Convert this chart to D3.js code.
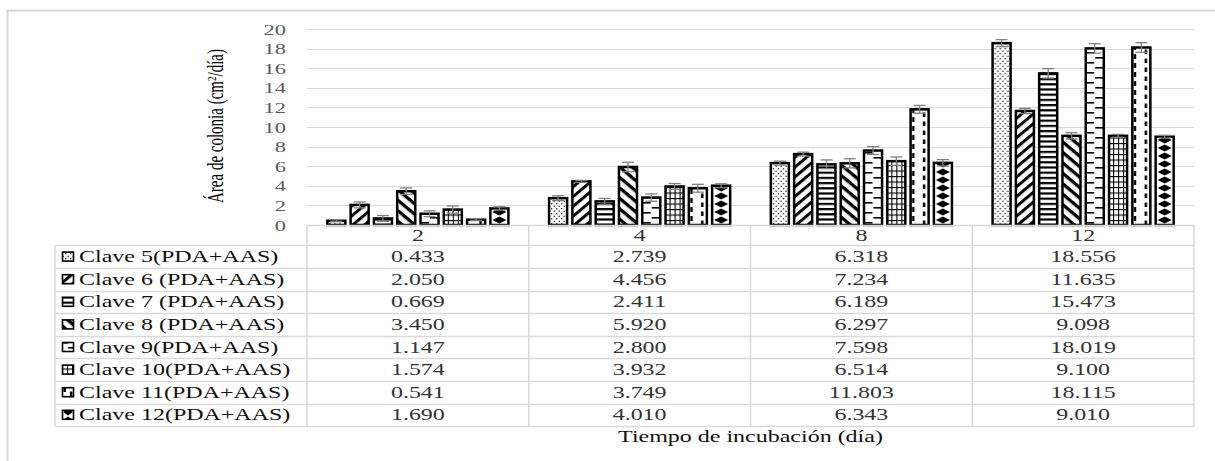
<!DOCTYPE html>
<html><head><meta charset="utf-8">
<script src="https://cdn.jsdelivr.net/npm/d3@7"></script>
<style>html,body{margin:0;padding:0;background:#fff;overflow:hidden} text{font-family:'Liberation Serif','Times New Roman',serif}</style>
</head><body>
<svg id="chart" width="1215" height="461"></svg>
<script>
// ---------- data ----------
const categories = ["2", "4", "8", "12"];
const seriesNames = ["Clave 5(PDA+AAS)", "Clave 6 (PDA+AAS)", "Clave 7 (PDA+AAS)", "Clave 8 (PDA+AAS)",
                     "Clave 9(PDA+AAS)", "Clave 10(PDA+AAS)", "Clave 11(PDA+AAS)", "Clave 12(PDA+AAS)"];
const clave5  = [0.433, 2.739, 6.318, 18.556];
const clave6  = [2.050, 4.456, 7.234, 11.635];
const clave7  = [0.669, 2.411, 6.189, 15.473];
const clave8  = [3.450, 5.920, 6.297, 9.098];
const clave9  = [1.147, 2.800, 7.598, 18.019];
const clave10 = [1.574, 3.932, 6.514, 9.100];
const clave11 = [0.541, 3.749, 11.803, 18.115];
const clave12 = [1.690, 4.010, 6.343, 9.010];
// error bar half-lengths
const err5  = [0.10, 0.25, 0.20, 0.36];
const err6  = [0.30, 0.10, 0.20, 0.27];
const err7  = [0.30, 0.30, 0.45, 0.48];
const err8  = [0.33, 0.48, 0.47, 0.32];
const err9  = [0.30, 0.37, 0.40, 0.48];
const err10 = [0.37, 0.30, 0.43, 0.15];
const err11 = [0.10, 0.40, 0.40, 0.49];
const err12 = [0.17, 0.20, 0.33, 0.14];
const yTicks = [0, 2, 4, 6, 8, 10, 12, 14, 16, 18, 20];
const patternTypes = ["dots", "upDiag", "hstripe", "downDiag", "hdash", "grid", "vdash", "diamond"];

const values = [clave5, clave6, clave7, clave8, clave9, clave10, clave11, clave12];
const errors = [err5, err6, err7, err8, err9, err10, err11, err12];

// ---------- layout ----------
const svg = d3.select("#chart");
const defs = svg.append("defs");
const plotL = 307, plotR = 1194, y0 = 225, yTop = 29;
const tableL = 55, headerH = 20.3, rowH = 22.6;
const serif = "'Liberation Serif','Times New Roman',serif";
const SX = 1.5; // horizontal text stretch seen in the picture

const x0 = d3.scaleBand().domain(categories).range([plotL, plotR]).padding(0);
const x1 = d3.scaleBand().domain(d3.range(seriesNames.length)).range([0, x0.bandwidth()])
  .paddingInner(0.14).paddingOuter(0.83);
const y = d3.scaleLinear().domain([0, 20]).range([y0, yTop]);

// outer frame
svg.append("rect").attr("x", 7.5).attr("y", 10.5).attr("width", 1300).attr("height", 600)
  .attr("fill", "none").attr("stroke", "#d9d9d9").attr("stroke-width", 2);

// gridlines
svg.append("g").selectAll("line").data(yTicks.filter(d => d > 0)).join("line")
  .attr("x1", plotL).attr("x2", plotR)
  .attr("y1", d => Math.round(y(d)) + 0.5).attr("y2", d => Math.round(y(d)) + 0.5)
  .attr("stroke", "#d9d9d9").attr("stroke-width", 1);

// y tick labels via axis
const yAxis = svg.append("g").attr("transform", `translate(${plotL},0)`)
  .call(d3.axisLeft(y).tickValues(yTicks).tickSize(0).tickPadding(0));
yAxis.attr("font-family", serif);
yAxis.select(".domain").remove();
yAxis.selectAll(".tick text").each(function () {
  const t = d3.select(this);
  t.attr("x", null).attr("dy", null).attr("text-anchor", "end")
   .attr("transform", `translate(-21,5) scale(${SX},1)`)
   .attr("font-family", serif).style("font-size", "15px").attr("fill", "#595959");
});

// y title
const yt = svg.append("text").attr("transform", `translate(223,126) rotate(-90) scale(1,1.5)`)
  .attr("text-anchor", "middle").attr("font-family", serif).style("font-size", "15px").attr("fill", "#000");
yt.append("tspan").text("Área de colonia (cm");
yt.append("tspan").text("2").attr("baseline-shift", "super").style("font-size", "9px");
yt.append("tspan").text("/día)");

// ---------- patterns ----------
function makePattern(id, type, ox, w) {
  let p;
  const add = (pw, ph, tr) => {
    p = defs.append("pattern").attr("id", id).attr("patternUnits", "userSpaceOnUse")
      .attr("x", ox).attr("y", 0).attr("width", pw).attr("height", ph);
    if (tr) p.attr("patternTransform", tr);
    p.append("rect").attr("width", pw).attr("height", ph).attr("fill", "#fff");
    return p;
  };
  if (type === "dots") {
    add(5, 5);
    p.append("circle").attr("cx", 1.2).attr("cy", 1.2).attr("r", 0.7).attr("fill", "#000");
    p.append("circle").attr("cx", 3.7).attr("cy", 3.7).attr("r", 0.7).attr("fill", "#000");
  } else if (type === "upDiag") {
    add(8, 7.5, "rotate(-40)");
    p.append("rect").attr("width", 8).attr("height", 3).attr("fill", "#000");
  } else if (type === "downDiag") {
    add(8, 8, "rotate(40)");
    p.append("rect").attr("width", 8).attr("height", 3.3).attr("fill", "#000");
  } else if (type === "hstripe") {
    add(8, 5.2);
    p.append("rect").attr("width", 8).attr("height", 2.2).attr("fill", "#000");
  } else if (type === "hdash") {
    add(w, 10);
    p.append("rect").attr("x", 1).attr("y", 2).attr("width", w * 0.42).attr("height", 1.6).attr("fill", "#000");
    p.append("rect").attr("x", w * 0.52).attr("y", 7).attr("width", w * 0.42).attr("height", 1.6).attr("fill", "#000");
  } else if (type === "grid") {
    add(5, 5.5);
    p.append("rect").attr("x", 0).attr("width", 1.1).attr("height", 5.5).attr("fill", "#000");
    p.append("rect").attr("y", 0).attr("width", 5).attr("height", 1.1).attr("fill", "#000");
  } else if (type === "vdash") {
    add(w, 9);
    p.append("rect").attr("x", w * 0.12).attr("y", 0).attr("width", 2.5).attr("height", 5).attr("fill", "#000");
    p.append("rect").attr("x", w * 0.66).attr("y", 4.5).attr("width", 2.5).attr("height", 5).attr("fill", "#000");
  } else if (type === "diamond") {
    add(w, 8);
    const c = w / 2, hw = Math.min(7, w * 0.4);
    p.append("path").attr("d", `M${c - hw},4 L${c},0.6 L${c + hw},4 L${c},7.4 Z`).attr("fill", "#000");
  }
}

// ---------- bars ----------
const bw = x1.bandwidth();
const barData = [];
values.forEach((vals, s) => vals.forEach((v, c) => {
  const bx = x0(categories[c]) + x1(s);
  barData.push({ s, c, v, e: errors[s][c], bx, pid: `p_${s}_${c}` });
  makePattern(`p_${s}_${c}`, patternTypes[s], bx, bw);
}));

svg.append("g").selectAll("rect").data(barData).join("rect")
  .attr("x", d => d.bx + 1).attr("width", bw - 2)
  .attr("y", d => y(d.v)).attr("height", d => y0 - y(d.v))
  .attr("fill", d => `url(#${d.pid})`).attr("stroke", "#000").attr("stroke-width", 2.5);

// error bars
const eg = svg.append("g").attr("stroke", "#808080").attr("stroke-width", 1.3);
barData.forEach(d => {
  const cx = d.bx + bw / 2;
  eg.append("line").attr("x1", cx).attr("x2", cx).attr("y1", y(d.v + d.e)).attr("y2", y(Math.max(0, d.v - d.e)));
  eg.append("line").attr("x1", cx - 6).attr("x2", cx + 6).attr("y1", y(d.v + d.e)).attr("y2", y(d.v + d.e));
  eg.append("line").attr("x1", cx - 6).attr("x2", cx + 6).attr("y1", y(Math.max(0, d.v - d.e))).attr("y2", y(Math.max(0, d.v - d.e)));
});

// ---------- data table ----------
const tg = svg.append("g");
const gridC = "#d9d9d9";
const rowsTop = y0 + headerH;
const tableBottom = rowsTop + rowH * seriesNames.length;
tg.append("line").attr("x1", plotL).attr("x2", plotR).attr("y1", y0 + 0.5).attr("y2", y0 + 0.5).attr("stroke", gridC).attr("stroke-width", 1.5);
d3.range(seriesNames.length + 1).forEach(i => {
  const yy = Math.round(rowsTop + i * rowH) + 0.5;
  tg.append("line").attr("x1", tableL).attr("x2", plotR).attr("y1", yy).attr("y2", yy).attr("stroke", gridC).attr("stroke-width", 1.5);
});
tg.append("line").attr("x1", tableL).attr("x2", tableL).attr("y1", rowsTop).attr("y2", tableBottom).attr("stroke", gridC).attr("stroke-width", 1.5);
categories.concat(["end"]).forEach(c => {
  const xx = c === "end" ? plotR : x0(c);
  tg.append("line").attr("x1", xx).attr("x2", xx).attr("y1", y0).attr("y2", tableBottom).attr("stroke", gridC).attr("stroke-width", 1.5);
});

function stxt(g, x, yy, txt, anchor, color) {
  return g.append("text").attr("transform", `translate(${x},${yy}) scale(${SX},1)`)
    .attr("text-anchor", anchor).attr("font-family", serif).style("font-size", "16px")
    .attr("fill", color || "#333").text(txt);
}
categories.forEach(c => stxt(tg, x0(c) + x0.bandwidth() / 2, y0 + 15.5, c, "middle"));
seriesNames.forEach((name, s) => {
  const cy = rowsTop + s * rowH + rowH / 2;
  makePattern(`lg_${s}`, patternTypes[s], 62, 12);
  tg.append("rect").attr("x", 62.5).attr("y", cy - 4.5).attr("width", 11).attr("height", 9)
    .attr("fill", `url(#lg_${s})`).attr("stroke", "#000").attr("stroke-width", 1.6);
  stxt(tg, 79, cy + 5.5, name, "start", "#111");
  categories.forEach((c, ci) => stxt(tg, x0(c) + x0.bandwidth() / 2, cy + 5.5, values[s][ci].toFixed(3), "middle"));
});

stxt(svg, (plotL + plotR) / 2, 442, "Tiempo de incubación (día)", "middle", "#111");
</script>
</body></html>
